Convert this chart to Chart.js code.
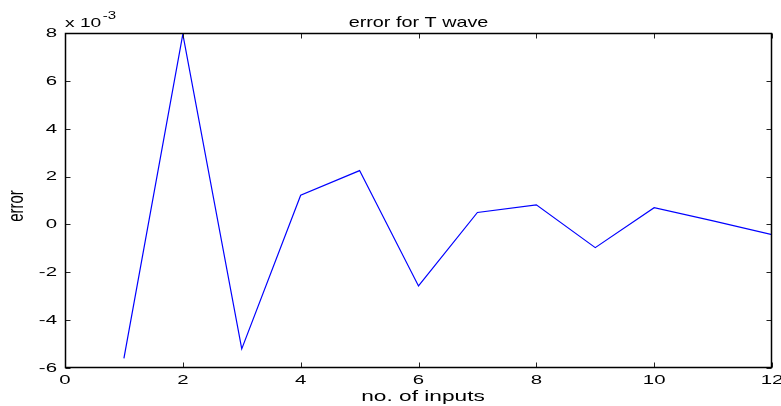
<!DOCTYPE html>
<html>
<head>
<meta charset="utf-8">
<script src="https://cdn.jsdelivr.net/npm/chart.js@4/dist/chart.umd.min.js"></script>
<style>
html,body{margin:0;padding:0;background:#fff;}
#wrap{width:781px;height:406px;}
</style>
</head>
<body>
<div id="wrap"><canvas id="c" width="781" height="406"></canvas></div>
<script>
const xValues = [1,2,3,4,5,6,7,8,9,10,11,12];
const errorValues = [-5.6,7.95,-5.2,1.22,2.25,-2.57,0.5,0.82,-0.97,0.7,0.15,-0.43]; // ×10^-3
const xTicks = [0,2,4,6,8,10,12];
const yTicks = [-6,-4,-2,0,2,4,6,8];
const titleText = 'error for T wave';
const xLabel = 'no. of inputs';
const yLabel = 'error';

const FONT = '"Liberation Sans", Arial, Helvetica, sans-serif';

function stretchText(ctx, text, x, y, size, sx, align, baseline) {
  ctx.save();
  ctx.font = size + 'px ' + FONT;
  ctx.textAlign = align;
  ctx.textBaseline = baseline;
  ctx.translate(x, y);
  ctx.scale(sx, 1);
  ctx.fillText(text, 0, 0);
  ctx.restore();
}

const boxPlugin = {
  id: 'boxPlugin',
  afterDraw(chart) {
    const ctx = chart.ctx;
    const a = chart.chartArea;
    const xs = chart.scales.x, ys = chart.scales.y;
    ctx.save();
    const L = Math.round(a.left)+0.5, R = Math.round(a.right)-0.5, T = Math.round(a.top)+0.5, B = Math.round(a.bottom)-0.5;
    // ticks
    ctx.strokeStyle = '#222';
    ctx.lineWidth = 1;
    const tl = 5;
    ctx.beginPath();
    xTicks.forEach(v => {
      const p = Math.round(xs.getPixelForValue(v))+0.5;
      ctx.moveTo(p, B); ctx.lineTo(p, B-tl);
      ctx.moveTo(p, T); ctx.lineTo(p, T+tl);
    });
    yTicks.forEach(v => {
      const p = Math.round(ys.getPixelForValue(v))+0.5;
      ctx.moveTo(L, p); ctx.lineTo(L+tl, p);
      ctx.moveTo(R, p); ctx.lineTo(R-tl, p);
    });
    ctx.stroke();
    // box
    ctx.strokeStyle = '#000';
    ctx.lineWidth = 1.5;
    ctx.beginPath();
    ctx.rect(L, T, R-L, B-T);
    ctx.stroke();
    ctx.fillStyle = '#000';
    // tick labels
    xTicks.forEach(v => {
      stretchText(ctx, String(v), xs.getPixelForValue(v), 381, 12, 1.7, 'center', 'middle');
    });
    yTicks.forEach(v => {
      stretchText(ctx, String(v), 57, ys.getPixelForValue(v)+0.5, 12, 1.7, 'right', 'middle');
    });
    // title
    stretchText(ctx, titleText, (a.left+a.right)/2, 27, 15, 1.32, 'center', 'alphabetic');
    // x label
    stretchText(ctx, xLabel, 423, 401, 14, 1.62, 'center', 'alphabetic');
    // exponent
    stretchText(ctx, 'x 10', 65, 27, 12, 1.6, 'left', 'alphabetic');
    ctx.font = '12px ' + FONT;
    const w = ctx.measureText('x 10').width * 1.6;
    stretchText(ctx, '-3', 65 + w + 1.5, 19, 10, 1.5, 'left', 'alphabetic');
    // y label
    ctx.save();
    ctx.translate(17, 206);
    ctx.rotate(-Math.PI/2);
    ctx.scale(1, 1.45);
    ctx.font = '15px ' + FONT;
    ctx.textAlign = 'center';
    ctx.textBaseline = 'middle';
    ctx.fillText(yLabel, 0, 0);
    ctx.restore();
    ctx.restore();
  }
};

new Chart(document.getElementById('c'), {
  type: 'line',
  data: {
    labels: xValues,
    datasets: [{
      data: xValues.map((x,i) => ({x: x, y: errorValues[i]})),
      borderColor: '#0000ff',
      borderWidth: 1.2,
      pointRadius: 0,
      tension: 0,
      fill: false
    }]
  },
  options: {
    responsive: false,
    animation: false,
    devicePixelRatio: 1,
    layout: { padding: { left: 0, right: 9, top: 33, bottom: 0 } },
    plugins: { legend: { display: false }, title: { display: false }, tooltip: { enabled: false } },
    scales: {
      x: {
        type: 'linear', min: 0, max: 12,
        afterBuildTicks: s => { s.ticks = xTicks.map(v => ({value: v})); },
        afterFit: s => { s.height = 38; },
        grid: { display: false, drawTicks: false },
        border: { display: false },
        ticks: { display: false }
      },
      y: {
        type: 'linear', min: -6, max: 8,
        afterBuildTicks: s => { s.ticks = yTicks.map(v => ({value: v})); },
        afterFit: s => { s.width = 65; },
        grid: { display: false, drawTicks: false },
        border: { display: false },
        ticks: { display: false }
      }
    }
  },
  plugins: [boxPlugin]
});
</script>
</body>
</html>
